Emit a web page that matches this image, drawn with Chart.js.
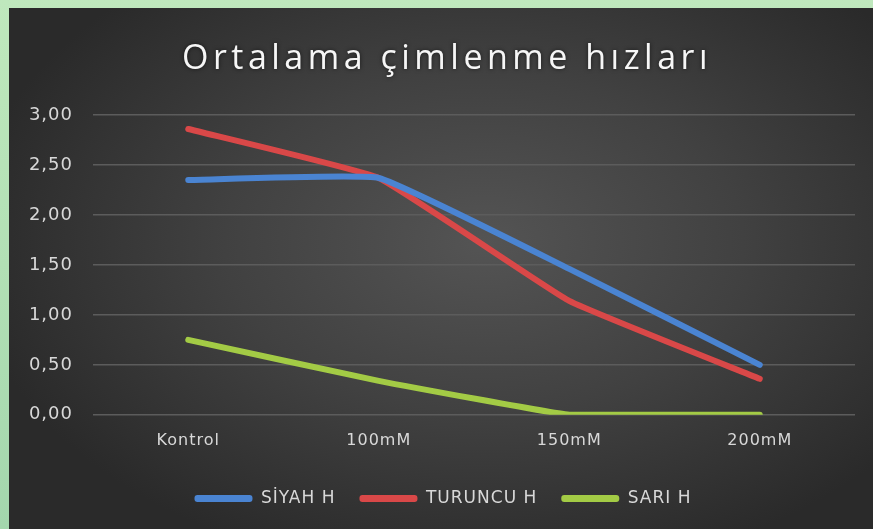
<!DOCTYPE html>
<html>
<head>
<meta charset="utf-8">
<script src="https://cdn.jsdelivr.net/npm/chart.js@4.4.1/dist/chart.umd.min.js"></script>
<style>
  html, body { margin: 0; padding: 0; }
  body {
    width: 873px; height: 529px; overflow: hidden; position: relative;
    background: linear-gradient(180deg, #bfe8bd 0%, #b2e0b5 50%, #a3d6ad 100%);
  }
  #panel {
    position: absolute; left: 9px; top: 8px; width: 864px; height: 521px;
    background: radial-gradient(ellipse 60% 65% at 55% 45%, #545454 0%, #414141 50%, #2a2a2a 100%);
  }
  canvas { display: block; }
</style>
</head>
<body>
<div id="panel"><canvas id="chart" width="864" height="521"></canvas></div>
<script>
// Chart data
const chartTitle = 'Ortalama çimlenme hızları';
const categories = ['Kontrol', '100mM', '150mM', '200mM'];
const siyahValues = [2.35, 2.37, 1.46, 0.50];
const turuncuValues = [2.86, 2.37, 1.14, 0.36];
const sariValues = [0.75, 0.34, 0.00, 0.00];
const seriesNames = ['SİYAH H', 'TURUNCU H', 'SARI H'];
const seriesColors = ['#4a84d2', '#d94848', '#a3cb45'];
const yTicks = [0, 0.5, 1, 1.5, 2, 2.5, 3];

// Draws the title with letter spacing and sets spacing for the rest of the text
const titlePlugin = {
    id: 'spacedTitle',
    beforeDraw(chart) {
        chart.ctx.letterSpacing = '1px';
    },
    afterDraw(chart) {
        const ctx = chart.ctx;
        ctx.save();
        ctx.letterSpacing = '4.5px';
        ctx.font = '34px "Open Sans"';
        ctx.fillStyle = '#f6f6f6';
        ctx.textAlign = 'center';
        ctx.textBaseline = 'middle';
        ctx.shadowColor = 'rgba(0,0,0,0.6)';
        ctx.shadowBlur = 4;
        ctx.fillText(chartTitle, chart.width / 2 + 6, 51);
        ctx.restore();
    }
};

const datasets = [siyahValues, turuncuValues, sariValues].map((values, i) => ({
    label: seriesNames[i],
    data: values,
    borderColor: seriesColors[i],
    backgroundColor: seriesColors[i],
    borderWidth: 6,
    pointRadius: 0,
    tension: 0.1,
    borderCapStyle: 'round',
    borderJoinStyle: 'round'
}));

new Chart(document.getElementById('chart').getContext('2d'), {
    type: 'line',
    data: {
        labels: categories,
        datasets: datasets
    },
    options: {
        responsive: false,
        animation: false,
        layout: {
            padding: { top: 107, left: 0, right: 18, bottom: 12 }
        },
        scales: {
            x: {
                offset: true,
                grid: { display: false, drawTicks: false },
                border: { display: false },
                ticks: {
                    color: '#d8d8d8',
                    font: { family: 'DejaVu Sans', size: 16 },
                    padding: 16
                }
            },
            y: {
                min: 0,
                max: 3,
                afterBuildTicks(scale) {
                    scale.ticks = yTicks.map(v => ({ value: v }));
                },
                afterFit(scale) {
                    scale.width = 84;
                },
                grid: { color: '#5c5c5c', lineWidth: 1.5, drawTicks: false },
                border: { display: false },
                ticks: {
                    color: '#d8d8d8',
                    font: { family: 'DejaVu Sans', size: 18 },
                    padding: 20,
                    callback: v => Number(v).toFixed(2).replace('.', ',')
                }
            }
        },
        plugins: {
            title: { display: false },
            tooltip: { enabled: false },
            legend: {
                position: 'bottom',
                labels: {
                    color: '#d8d8d8',
                    font: { family: 'DejaVu Sans', size: 17 },
                    boxWidth: 58,
                    boxHeight: 7,
                    padding: 24,
                    generateLabels(chart) {
                        return chart.data.datasets.map((ds, i) => ({
                            text: ds.label,
                            fillStyle: ds.borderColor,
                            strokeStyle: ds.borderColor,
                            fontColor: '#d8d8d8',
                            lineWidth: 0,
                            borderRadius: 3,
                            datasetIndex: i
                        }));
                    },
                    useBorderRadius: true,
                    borderRadius: 3
                }
            }
        }
    },
    plugins: [titlePlugin]
});
</script>
</body>
</html>
